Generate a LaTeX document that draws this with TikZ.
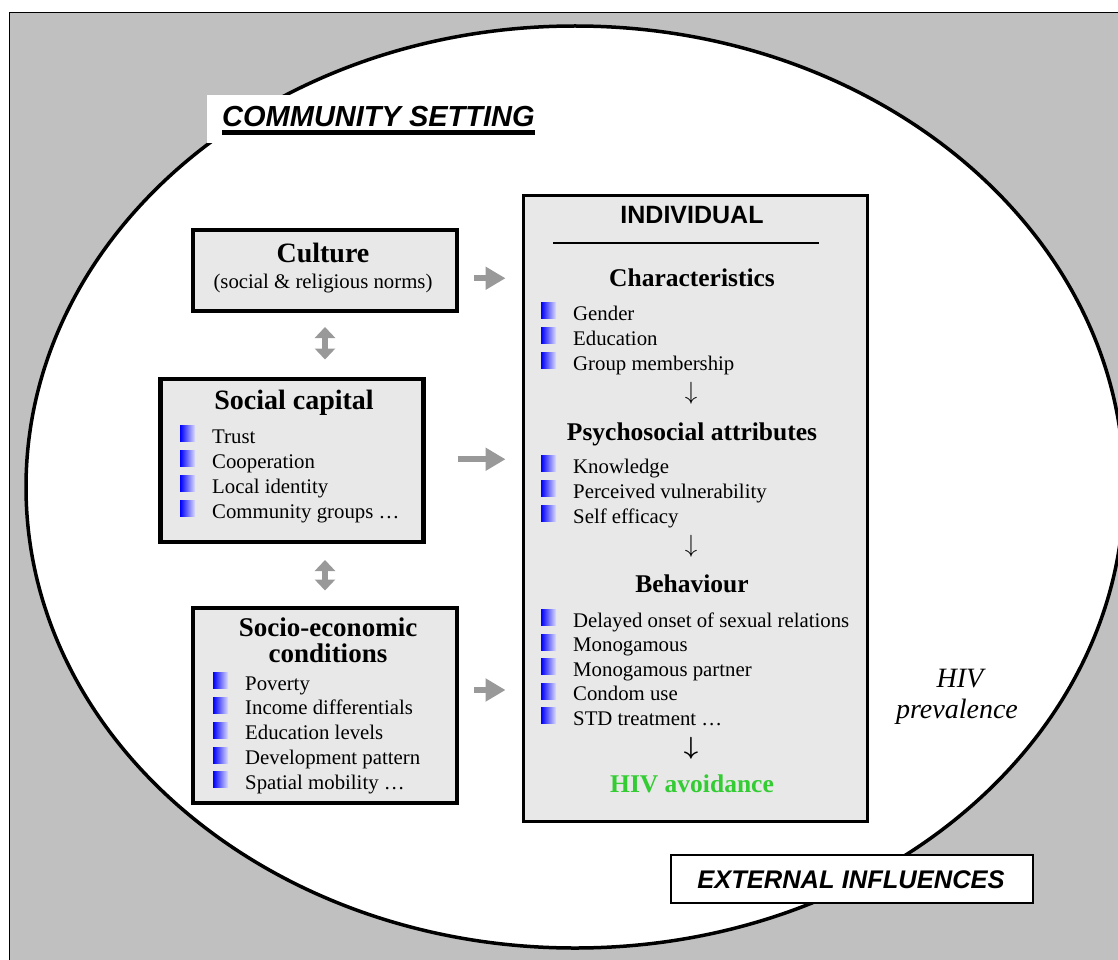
\documentclass[tikz,border=0pt]{standalone}
\usepackage{bm}
\usepackage{fontspec}
\setmainfont{Liberation Serif}
\newfontfamily\sansf{Liberation Sans}
\usetikzlibrary{arrows.meta,calc}
\definecolor{outergray}{RGB}{192,192,192}
\definecolor{boxgray}{RGB}{232,232,232}
\definecolor{arrowgray}{RGB}{153,153,153}
\definecolor{hivgreen}{RGB}{51,204,51}
\begin{document}
\begin{tikzpicture}[x=1pt,y=-1pt,
  box/.style={draw=black, fill=boxgray, line width=4pt, inner sep=0pt, anchor=north west},
  lhead/.style={font=\fontsize{28}{25}\selectfont\bfseries, anchor=base, inner sep=0pt},
  rhead/.style={font=\fontsize{25.5}{28}\selectfont\bfseries, anchor=base, inner sep=0pt},
  item/.style={font=\fontsize{20.8}{24}\selectfont, anchor=base west, inner sep=0pt},
  bul/.style={left color=blue, right color=blue!12, minimum width=15pt, minimum height=16pt, inner sep=0pt, anchor=south west},
  garrow/.style={draw=arrowgray, line width=6pt, -{Triangle[length=20pt,width=22pt]}},
  darrow/.style={draw=arrowgray, line width=6pt, {Triangle[length=11pt,width=20pt]}-{Triangle[length=11pt,width=20pt]}},
  darr/.style={font=\fontsize{27}{29}\selectfont, inner sep=0pt},
]
\useasboundingbox (0,0) rectangle (1118,960);
\clip (0,0) rectangle (1118,960);
% background frame and community ellipse
\draw[fill=outergray, line width=1.5pt] (9.5,12.5) rectangle (1140,990);
\draw[fill=white, line width=3.5pt] (575,487) ellipse [x radius=549, y radius=461];

% community setting label
\node[fill=white, minimum width=338pt, minimum height=48pt, inner sep=0pt, anchor=north west] (csbox) at (207,95) {};
\node[anchor=base west, inner sep=0pt, font=\sansf\bfseries\itshape\fontsize{29}{32}\selectfont] (cs) at (222,127) {COMMUNITY SETTING};
\draw[line width=4.5pt] ([yshift=-5.5pt]cs.base west) -- ([yshift=-5.5pt]cs.base east);

% culture
\node[box, minimum width=264pt, minimum height=81.5pt] (culture) at (191,227.5) {};
\node[lhead] (culturet) at (323,262) {Culture};
\node[font=\fontsize{20.8}{24}\selectfont, anchor=base, inner sep=0pt] (cultures) at (323,288) {(social \& religious norms)};

% social capital
\node[box, line width=4.5pt, minimum width=263pt, minimum height=163pt] (sc) at (158,376.5) {};
\node[lhead] (sct) at (294,409) {Social capital};
\foreach \t [count=\i] in {Trust,Cooperation,Local identity,Community groups …}{
  \node[bul] (scb\i) at (180,{443+25*(\i-1)-1}) {};
  \node[item] (sci\i) at (212,{443+25*(\i-1)}) {\t};
}

% socio-economic conditions
\node[box, minimum width=264pt, minimum height=195pt] (socio) at (191,606) {};
\node[lhead, font=\fontsize{27}{26}\selectfont\bfseries, anchor=north, align=center] (sociot) at (328,618) {Socio-economic\\conditions};
\foreach \t [count=\i] in {Poverty,Income differentials,Education levels,Development pattern,Spatial mobility …}{
  \node[bul] (seb\i) at (213,{690+24.75*(\i-1)-1}) {};
  \node[item] (sei\i) at (245,{690+24.75*(\i-1)}) {\t};
}

% individual
\node[box, line width=3.5pt, minimum width=344pt, minimum height=626pt] (indiv) at (521.5,193.5) {};
\node[anchor=base, inner sep=0pt, font=\sansf\bfseries\fontsize{25}{28}\selectfont] (indivt) at (692,223) {INDIVIDUAL};
\coordinate (rulel) at (553,243);
\coordinate (ruler) at (819,243);
\draw[line width=1.3pt] (rulel) -- (ruler);
\node[rhead] (chart) at (692,286) {Characteristics};
\foreach \t [count=\i] in {Gender,Education,Group membership}{
  \node[bul] (chb\i) at (541,{320+25*(\i-1)-1}) {};
  \node[item] (chi\i) at (573,{320+25*(\i-1)}) {\t};
}
\node[darr] (arr1) at (691,393) {$\downarrow$};
\node[rhead] (psyt) at (692,440) {Psychosocial attributes};
\foreach \t [count=\i] in {Knowledge,Perceived vulnerability,Self efficacy}{
  \node[bul] (psb\i) at (541,{473+25*(\i-1)-1}) {};
  \node[item] (psi\i) at (573,{473+25*(\i-1)}) {\t};
}
\node[darr] (arr2) at (691,546) {$\downarrow$};
\node[rhead] (beht) at (692,592) {Behaviour};
\foreach \t [count=\i] in {Delayed onset of sexual relations,Monogamous,Monogamous partner,Condom use,STD treatment …}{
  \node[bul] (beb\i) at (541,{627+24.5*(\i-1)-1}) {};
  \node[item] (bei\i) at (573,{627+24.5*(\i-1)}) {\t};
}
\node[darr] (arr3) at (691,748) {$\bm{\downarrow}$};
\node[rhead, text=hivgreen] (avoid) at (692,792) {HIV avoidance};

% HIV prevalence
\node[anchor=base, inner sep=0pt, font=\fontsize{28}{30}\selectfont\itshape] (hiv1) at (960,687) {HIV};
\node[anchor=base, inner sep=0pt, font=\fontsize{28}{30}\selectfont\itshape] (hiv2) at (957,718) {prevalence};

% external influences
\node[draw=black, fill=white, line width=2.2pt, minimum width=362pt, minimum height=48pt, inner sep=0pt, anchor=north west] (extbox) at (670,854) {};
\node[anchor=base, inner sep=0pt, font=\sansf\bfseries\itshape\fontsize{25.5}{28}\selectfont] (extt) at (851,888) {EXTERNAL INFLUENCES};

% gray arrows into the individual box
\draw[garrow, shorten >=16pt] ($(culture.east)+(15,8)$) -- ($(culture.east -| indiv.west)+(0,8)$);
\draw[garrow, shorten >=16pt] ($(sc.east)+(32,-1)$) -- ($(sc.east -| indiv.west)+(0,-1)$);
\draw[garrow, shorten >=16pt] ($(socio.east)+(15,-15.5)$) -- ($(socio.east -| indiv.west)+(0,-15.5)$);

% double arrows between left boxes
\draw[darrow, shorten <=14pt, shorten >=17pt] (culture.south) -- (culture.south |- sc.north);
\draw[darrow, shorten <=16pt, shorten >=15.5pt] (socio.north |- sc.south) -- (socio.north);
\end{tikzpicture}
\end{document}
